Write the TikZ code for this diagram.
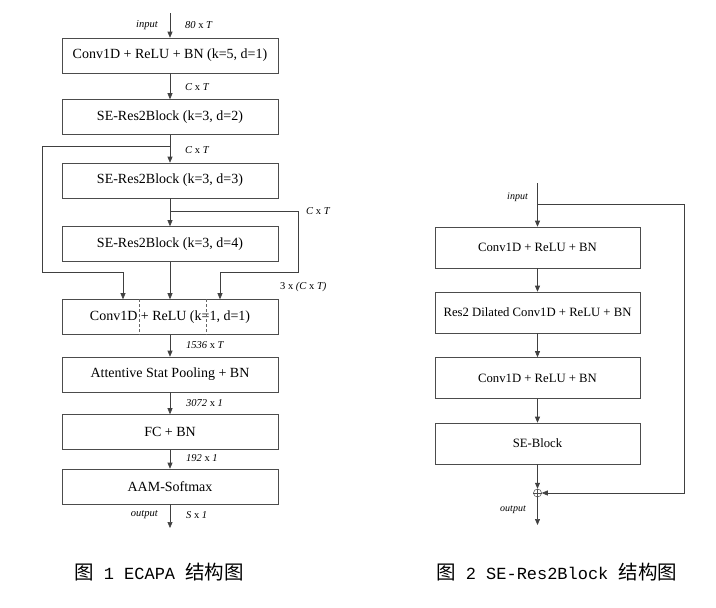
\documentclass[tikz,border=0pt]{standalone}
\usepackage{fontspec}
\setmainfont{Liberation Serif}
\newfontfamily\cjk{Noto Sans CJK SC}
\newfontfamily\capmono[Scale=0.87]{Liberation Mono}
\usetikzlibrary{arrows.meta}
\tikzset{
  blk/.style={draw=black!70, line width=0.6pt, minimum height=35pt, minimum width=216pt, inner sep=0pt, font=\fontsize{14}{16}\selectfont},
  rblk/.style={blk, minimum height=41pt, minimum width=205pt, font=\fontsize{12.7}{15}\selectfont},
  dim/.style={font=\fontsize{10.5}{12}\selectfont\itshape, inner sep=0pt},
  conn/.style={draw=black!75, line width=0.6pt},
  arr/.style={conn, -{Triangle[length=6pt,width=5pt]}},
  figcap/.style={anchor=west, inner sep=0pt, font=\fontsize{19.5}{22}\selectfont},
}

\begin{document}
\begin{tikzpicture}[x=1pt,y=-1pt]
\useasboundingbox (0,0) rectangle (716,608);

% ECAPA
\node[blk] (conv) at (170,55.5) {Conv1D + ReLU + BN (k=5, d=1)};
\node[blk] (se2) at (170,117) {SE-Res2Block (k=3, d=2)};
\node[blk] (se3) at (170,180.5) {SE-Res2Block (k=3, d=3)};
\node[blk] (se4) at (170,244) {SE-Res2Block (k=3, d=4)};
\node[blk] (mfa) at (170,317) {Conv1D + ReLU (k=1, d=1)};
\node[blk] (asp) at (170,374.5) {Attentive Stat Pooling + BN};
\node[blk] (fc) at (170,432) {FC + BN};
\node[blk] (aam) at (170,486.5) {AAM-Softmax};

\coordinate (in) at (170,13);
\coordinate (out) at (170,528);
\coordinate (b1) at (170,146);
\coordinate (b2) at (170,211);
\coordinate (l1) at (42,272);
\coordinate (r1) at (298,272);

\draw[arr] (in) -- (conv);
\draw[arr] (conv) -- (se2);
\draw[arr] (se2) -- (se3);
\draw[arr] (se3) -- (se4);
\draw[arr] (se4) -- (mfa);
\draw[arr] (b1) -| (l1) -| ([xshift=-47pt]mfa.north);
\draw[arr] (b2) -| (r1) -| ([xshift=50pt]mfa.north);
\draw[arr] (mfa) -- (asp);
\draw[arr] (asp) -- (fc);
\draw[arr] (fc) -- (aam);
\draw[arr] (aam) -- (out);
\draw[draw=black!60, line width=0.4pt, dash pattern=on 3pt off 2pt]
  ([xshift=-31pt]mfa.north) -- ([xshift=-31pt]mfa.south)
  ([xshift=36pt]mfa.north) -- ([xshift=36pt]mfa.south);

\node[dim, anchor=east] (inl) at (158,25) {input};
\node[dim, anchor=west] (d0) at (185,25) {80 \textup{x} T};
\node[dim, anchor=west] (d1) at (185,87) {C \textup{x} T};
\node[dim, anchor=west] (d2) at (185,150) {C \textup{x} T};
\node[dim, anchor=west] (d3) at (306,211) {C \textup{x} T};
\node[dim, anchor=west] (d4) at (280,287) {\textup{3 x} (C \textup{x} T)};
\node[dim, anchor=west] (d5) at (186,345) {1536 \textup{x} T};
\node[dim, anchor=west] (d6) at (186,403) {3072 \textup{x} 1};
\node[dim, anchor=west] (d7) at (186,458) {192 \textup{x} 1};
\node[dim, anchor=east] (outl) at (158,515) {output};
\node[dim, anchor=west] (d8) at (186,515) {S \textup{x} 1};

% SE-Res2Block
\node[rblk] (rc1) at (537.5,247.5) {Conv1D + ReLU + BN};
\node[rblk] (rres) at (537.5,312.5) {Res2 Dilated Conv1D + ReLU + BN};
\node[rblk] (rc2) at (537.5,378) {Conv1D + ReLU + BN};
\node[rblk] (rse) at (537.5,443.5) {SE-Block};
\node[circle, draw=black!70, line width=0.5pt, minimum size=8pt, inner sep=0pt] (sum) at (537.5,493) {};
\draw[black!70, line width=0.5pt] (sum.north) -- (sum.south) (sum.west) -- (sum.east);

\coordinate (rin) at (537.5,183);
\coordinate (rb) at (537.5,204);
\coordinate (rr) at (684,493);
\coordinate (rout) at (537.5,525);

\draw[arr] (rin) -- (rc1);
\draw[arr] (rc1) -- (rres);
\draw[arr] (rres) -- (rc2);
\draw[arr] (rc2) -- (rse);
\draw[arr] (rse) -- (sum);
\draw[arr] (rb) -| (rr) -- (sum);
\draw[arr] (sum) -- (rout);

\node[dim, anchor=east, font=\fontsize{10}{12}\selectfont\itshape] (rinl) at (528,197) {input};
\node[dim, anchor=east, font=\fontsize{10}{12}\selectfont\itshape] (routl) at (526,510) {output};

\node[figcap] (cap1) at (74,572) {{\cjk 图}{\capmono\ 1 ECAPA\ }{\cjk 结构图}};
\node[figcap] (cap2) at (436,572) {{\cjk 图}{\capmono\ 2 SE-Res2Block\ }{\cjk 结构图}};
\end{tikzpicture}
\end{document}
